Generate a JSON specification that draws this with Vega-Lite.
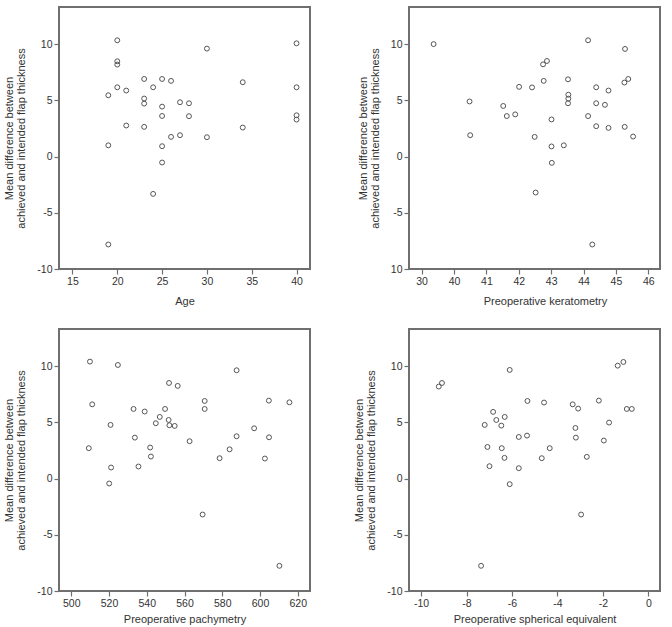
{
  "$schema": "https://vega.github.io/schema/vega-lite/v6.json",
  "autosize": {"type": "pad"},
  "padding": {"left": 2, "top": 6, "right": 0, "bottom": 0},
  "background": "white",
  "datasets": {
    "age": [
      {"age": 20, "diff": 10.34}, {"age": 20, "diff": 8.47}, {"age": 20, "diff": 8.18}, {"age": 20, "diff": 6.16},
      {"age": 19, "diff": 5.45}, {"age": 19, "diff": 1.0}, {"age": 19, "diff": -7.82},
      {"age": 21, "diff": 5.87}, {"age": 21, "diff": 2.76},
      {"age": 23, "diff": 6.9}, {"age": 23, "diff": 5.16}, {"age": 23, "diff": 4.71}, {"age": 23, "diff": 2.64},
      {"age": 24, "diff": 6.16}, {"age": 24, "diff": -3.32},
      {"age": 25, "diff": 6.9}, {"age": 25, "diff": 4.44}, {"age": 25, "diff": 3.61}, {"age": 25, "diff": 0.92}, {"age": 25, "diff": -0.53},
      {"age": 26, "diff": 6.73}, {"age": 26, "diff": 1.75},
      {"age": 27, "diff": 4.83}, {"age": 27, "diff": 1.9},
      {"age": 28, "diff": 4.74}, {"age": 28, "diff": 3.59},
      {"age": 30, "diff": 9.6}, {"age": 30, "diff": 1.72},
      {"age": 34, "diff": 6.61}, {"age": 34, "diff": 2.58},
      {"age": 40, "diff": 10.07}, {"age": 40, "diff": 6.16}, {"age": 40, "diff": 3.67}, {"age": 40, "diff": 3.29}
    ],
    "keratometry": [
      {"k": 33.7, "diff": 10.0}, {"k": 40.48, "diff": 4.9}, {"k": 40.5, "diff": 1.9},
      {"k": 41.52, "diff": 4.5}, {"k": 41.63, "diff": 3.6}, {"k": 41.89, "diff": 3.75},
      {"k": 42.01, "diff": 6.2}, {"k": 42.41, "diff": 6.15}, {"k": 42.49, "diff": 1.75}, {"k": 42.52, "diff": -3.2},
      {"k": 42.75, "diff": 8.2}, {"k": 42.87, "diff": 8.5}, {"k": 42.77, "diff": 6.73},
      {"k": 43.01, "diff": 3.3}, {"k": 43.01, "diff": 0.9}, {"k": 43.02, "diff": -0.56},
      {"k": 43.39, "diff": 1.0}, {"k": 43.52, "diff": 6.87}, {"k": 43.53, "diff": 5.5}, {"k": 43.53, "diff": 5.15}, {"k": 43.52, "diff": 4.74},
      {"k": 44.14, "diff": 10.34}, {"k": 44.14, "diff": 3.6}, {"k": 44.27, "diff": -7.82},
      {"k": 44.39, "diff": 6.16}, {"k": 44.39, "diff": 4.74}, {"k": 44.39, "diff": 2.7},
      {"k": 44.66, "diff": 4.6}, {"k": 44.77, "diff": 5.87}, {"k": 44.77, "diff": 2.55},
      {"k": 45.28, "diff": 9.57}, {"k": 45.26, "diff": 6.58}, {"k": 45.38, "diff": 6.9}, {"k": 45.27, "diff": 2.64}, {"k": 45.53, "diff": 1.78}
    ],
    "pachymetry": [
      {"pachy": 509.9, "diff": 10.4}, {"pachy": 524.7, "diff": 10.1}, {"pachy": 511.1, "diff": 6.6}, {"pachy": 509.3, "diff": 2.7},
      {"pachy": 520.8, "diff": 4.77}, {"pachy": 521.1, "diff": 0.98}, {"pachy": 520.1, "diff": -0.44},
      {"pachy": 533.0, "diff": 6.19}, {"pachy": 533.7, "diff": 3.64}, {"pachy": 538.9, "diff": 5.96}, {"pachy": 535.6, "diff": 1.07},
      {"pachy": 541.8, "diff": 2.76}, {"pachy": 542.2, "diff": 1.96}, {"pachy": 544.8, "diff": 4.92}, {"pachy": 546.9, "diff": 5.48},
      {"pachy": 549.7, "diff": 6.19}, {"pachy": 551.8, "diff": 8.5}, {"pachy": 551.6, "diff": 5.21}, {"pachy": 552.0, "diff": 4.74},
      {"pachy": 554.8, "diff": 4.68}, {"pachy": 556.4, "diff": 8.24}, {"pachy": 562.7, "diff": 3.32}, {"pachy": 569.6, "diff": -3.2},
      {"pachy": 570.7, "diff": 6.9}, {"pachy": 570.7, "diff": 6.19}, {"pachy": 578.6, "diff": 1.81}, {"pachy": 583.9, "diff": 2.6},
      {"pachy": 587.6, "diff": 9.63}, {"pachy": 587.6, "diff": 3.76}, {"pachy": 596.9, "diff": 4.47}, {"pachy": 602.6, "diff": 1.78},
      {"pachy": 604.7, "diff": 6.93}, {"pachy": 604.8, "diff": 3.67}, {"pachy": 615.6, "diff": 6.78}, {"pachy": 610.3, "diff": -7.76}
    ],
    "spherical": [
      {"se": -9.22, "diff": 8.18}, {"se": -9.08, "diff": 8.5}, {"se": -7.2, "diff": 4.77}, {"se": -7.08, "diff": 2.81},
      {"se": -6.99, "diff": 1.1}, {"se": -6.83, "diff": 5.93}, {"se": -6.69, "diff": 5.21}, {"se": -6.47, "diff": 4.71},
      {"se": -6.32, "diff": 5.48}, {"se": -6.45, "diff": 2.7}, {"se": -6.33, "diff": 1.84}, {"se": -6.1, "diff": 9.66},
      {"se": -6.1, "diff": -0.5}, {"se": -5.7, "diff": 0.92}, {"se": -5.7, "diff": 3.7}, {"se": -5.32, "diff": 6.9},
      {"se": -5.34, "diff": 3.82}, {"se": -4.59, "diff": 6.76}, {"se": -4.69, "diff": 1.81}, {"se": -4.34, "diff": 2.7},
      {"se": -7.36, "diff": -7.76}, {"se": -3.33, "diff": 6.6}, {"se": -3.09, "diff": 6.22}, {"se": -3.21, "diff": 4.5},
      {"se": -3.19, "diff": 3.64}, {"se": -2.96, "diff": -3.2}, {"se": -2.71, "diff": 1.93}, {"se": -2.18, "diff": 6.93},
      {"se": -1.96, "diff": 3.38}, {"se": -1.73, "diff": 4.98}, {"se": -1.35, "diff": 10.04}, {"se": -1.1, "diff": 10.37},
      {"se": -0.95, "diff": 6.19}, {"se": -0.73, "diff": 6.19}
    ]
  },
  "columns": 2,
  "bounds": "flush",
  "spacing": {"row": 60, "column": 99},
  "concat": [
    {
      "width": 251, "height": 262,
      "data": {"name": "age"},
      "mark": {"type": "point", "shape": "circle", "filled": false, "stroke": "#555555", "strokeWidth": 1, "size": 24, "opacity": 1},
      "encoding": {
        "x": {"field": "age", "type": "quantitative", "title": "Age",
              "scale": {"domain": [13.5, 41.5], "nice": false, "zero": false},
              "axis": {"values": [15, 20, 25, 30, 35, 40]}},
        "y": {"field": "diff", "type": "quantitative",
              "title": ["Mean difference between", "achieved and intended flap thickness"],
              "scale": {"domain": [-10, 13.3], "nice": false, "zero": false},
              "axis": {"values": [-10, -5, 0, 5, 10], "labelExpr": "'' + datum.value"}}
      }
    },
    {
      "width": 251, "height": 262,
      "data": {"name": "keratometry"},
      "mark": {"type": "point", "shape": "circle", "filled": false, "stroke": "#555555", "strokeWidth": 1, "size": 24, "opacity": 1},
      "encoding": {
        "x": {"field": "k", "type": "quantitative", "title": "Preoperative keratometry",
              "scale": {"domain": [26.1, 40, 46.36], "range": [0, 45, 251], "nice": false, "zero": false},
              "axis": {"values": [30, 40, 41, 42, 43, 44, 45, 46], "titleX": 136}},
        "y": {"field": "diff", "type": "quantitative",
              "title": ["Mean difference between", "achieved and intended flap thickness"],
              "scale": {"domain": [-10, 13.3], "nice": false, "zero": false},
              "axis": {"values": [-10, -5, 0, 5, 10], "labelExpr": "datum.value == -10 ? '10' : '' + datum.value"}}
      }
    },
    {
      "width": 251, "height": 262,
      "data": {"name": "pachymetry"},
      "mark": {"type": "point", "shape": "circle", "filled": false, "stroke": "#555555", "strokeWidth": 1, "size": 24, "opacity": 1},
      "encoding": {
        "x": {"field": "pachy", "type": "quantitative", "title": "Preoperative pachymetry",
              "scale": {"domain": [493.5, 626.5], "nice": false, "zero": false},
              "axis": {"values": [500, 520, 540, 560, 580, 600, 620], "titlePadding": 5}},
        "y": {"field": "diff", "type": "quantitative",
              "title": ["Mean difference between", "achieved and intended flap thickness"],
              "scale": {"domain": [-10, 13.3], "nice": false, "zero": false},
              "axis": {"values": [-10, -5, 0, 5, 10], "labelExpr": "'' + datum.value"}}
      }
    },
    {
      "width": 251, "height": 262,
      "data": {"name": "spherical"},
      "mark": {"type": "point", "shape": "circle", "filled": false, "stroke": "#555555", "strokeWidth": 1, "size": 24, "opacity": 1},
      "encoding": {
        "x": {"field": "se", "type": "quantitative", "title": "Preoperative spherical equivalent",
              "scale": {"domain": [-10.53, 0.51], "nice": false, "zero": false},
              "axis": {"values": [-10, -8, -6, -4, -2, 0], "labelExpr": "'' + datum.value", "titlePadding": 5}},
        "y": {"field": "diff", "type": "quantitative",
              "title": ["Mean difference between", "achieved and intended flap thickness"],
              "scale": {"domain": [-10, 13.3], "nice": false, "zero": false},
              "axis": {"values": [-10, -5, 0, 5, 10], "labelExpr": "'' + datum.value"}}
      }
    }
  ],
  "config": {
    "font": "Liberation Sans",
    "view": {"stroke": "#6f6f6f", "strokeWidth": 2},
    "axis": {
      "domain": false,
      "grid": false,
      "ticks": true,
      "tickColor": "#6f6f6f",
      "tickSize": 5,
      "tickWidth": 1.2,
      "labelFont": "Liberation Sans",
      "labelFontSize": 10.5,
      "labelColor": "#333333",
      "labelPadding": 2,
      "labelFlush": false,
      "labelOverlap": false,
      "titleFont": "Liberation Sans",
      "titleFontSize": 11,
      "titleFontWeight": "normal",
      "titleColor": "#333333"
    },
    "axisX": {"titlePadding": 9},
    "axisY": {"titlePadding": 10, "titleLineHeight": 12}
  }
}
